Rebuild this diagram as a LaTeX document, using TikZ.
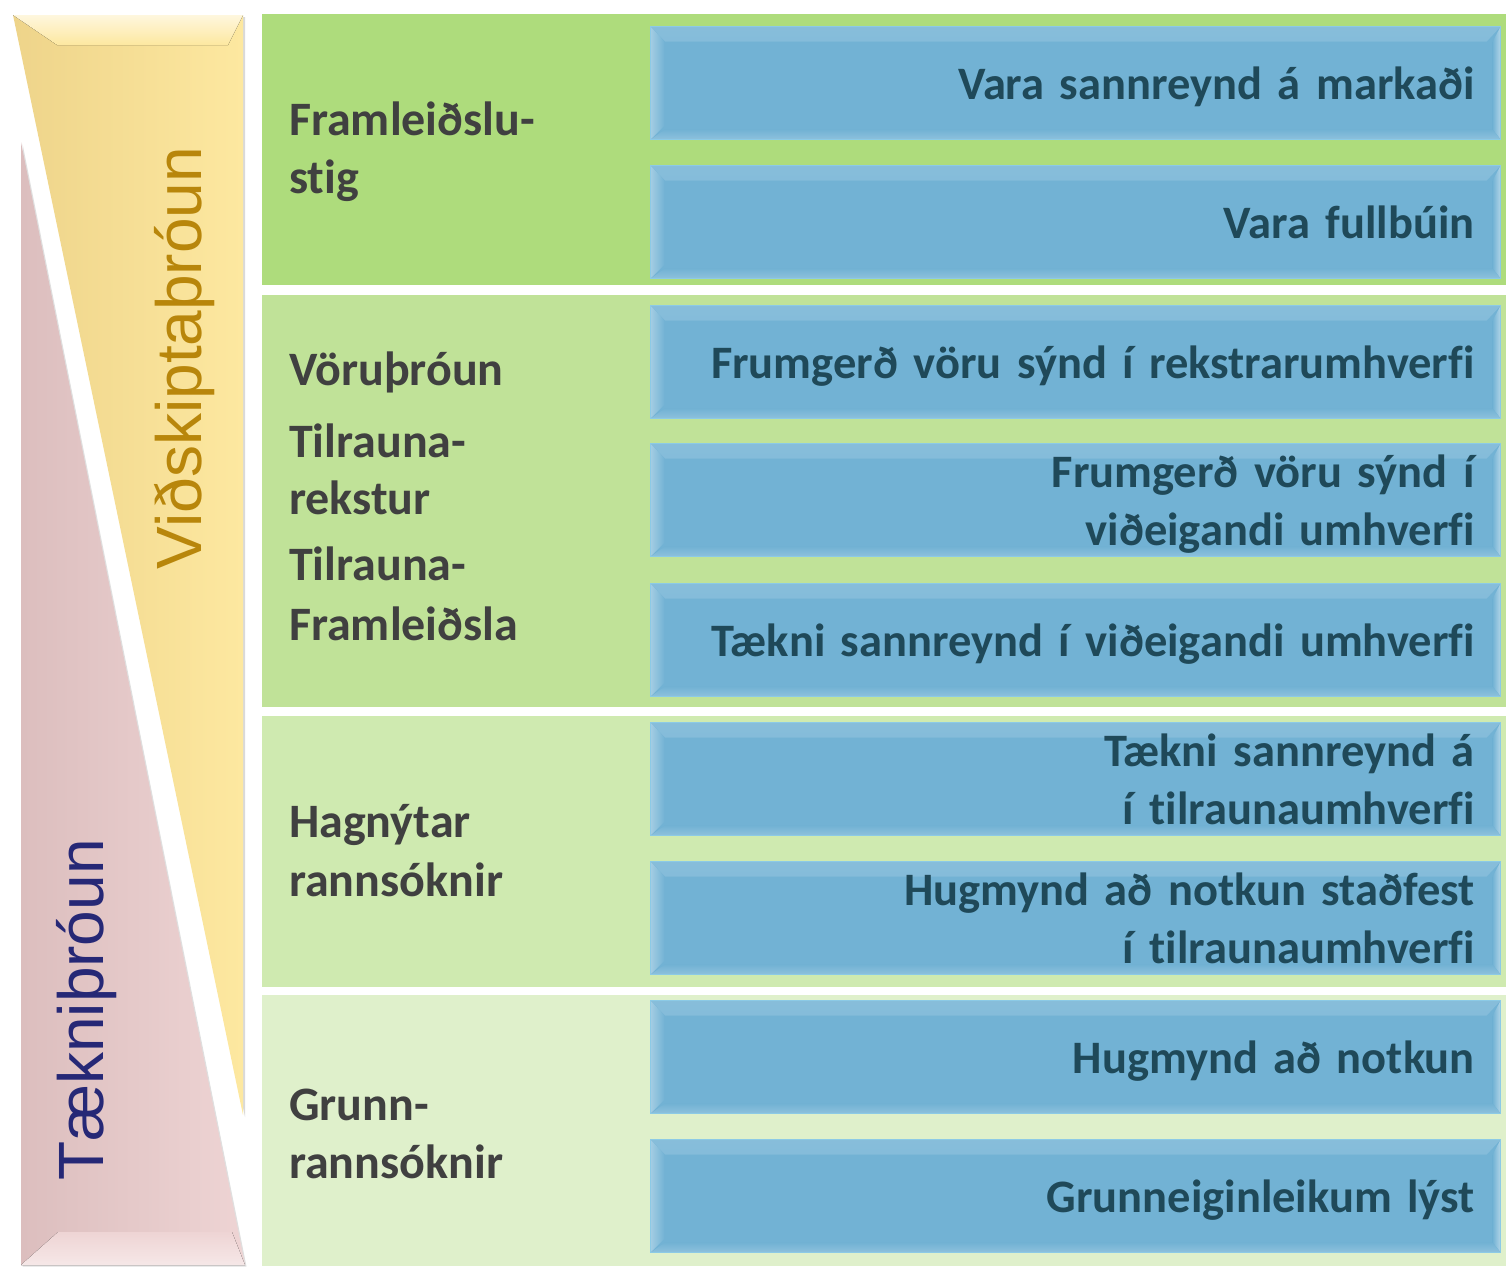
\documentclass[tikz,border=0pt]{standalone}
\usepackage{fontspec}
\setmainfont{Carlito}[Ligatures=NoCommon]
\newfontfamily\sidefont{Liberation Sans}
\usetikzlibrary{shadows}

\definecolor{bandA}{RGB}{174,220,124}
\definecolor{bandB}{RGB}{192,226,152}
\definecolor{bandC}{RGB}{207,234,176}
\definecolor{bandD}{RGB}{223,240,203}
\definecolor{stagefill}{RGB}{114,178,212}
\definecolor{stageedge}{RGB}{140,202,230}
\definecolor{stagetext}{RGB}{31,73,89}
\definecolor{bevhi}{RGB}{196,248,255}
\definecolor{phasetext}{RGB}{64,64,64}
\definecolor{bizgold}{RGB}{184,134,11}
\definecolor{technavy}{RGB}{38,40,118}
\definecolor{yellowL}{RGB}{238,212,138}
\definecolor{yellowR}{RGB}{253,232,160}
\definecolor{pinkL}{RGB}{220,190,190}
\definecolor{pinkR}{RGB}{238,212,212}

% bevelled edges of the blue boxes
\newcommand{\stagebevel}{%
  \fill[top color=stagefill!85!white, middle color=bevhi, bottom color=stagefill]
    (path picture bounding box.north west) -- (path picture bounding box.north east)
    -- ([shift={(-14pt,-15pt)}]path picture bounding box.north east)
    -- ([shift={(14pt,-15pt)}]path picture bounding box.north west) -- cycle;
  \fill[left color=stagefill!65!white, right color=stagefill]
    (path picture bounding box.north west) -- ([shift={(14pt,-15pt)}]path picture bounding box.north west)
    -- ([shift={(14pt,14pt)}]path picture bounding box.south west)
    -- (path picture bounding box.south west) -- cycle;
  \fill[left color=stagefill, right color=stagefill!55!white]
    (path picture bounding box.north east) -- ([shift={(-8pt,-15pt)}]path picture bounding box.north east)
    -- ([shift={(-8pt,10pt)}]path picture bounding box.south east)
    -- (path picture bounding box.south east) -- cycle;
  \fill[top color=stagefill, bottom color=stagefill!80!white]
    (path picture bounding box.south west) -- ([shift={(14pt,10pt)}]path picture bounding box.south west)
    -- ([shift={(-8pt,10pt)}]path picture bounding box.south east)
    -- (path picture bounding box.south east) -- cycle;
}

\begin{document}
\begin{tikzpicture}[x=1pt, y=-1pt,
    stage/.style = {
      draw = stageedge,
      fill = stagefill,
      line width = 1.2pt,
      anchor = north west,
      minimum height = 113pt,
      text width = 798pt,
      inner xsep = 26pt,
      inner ysep = 0pt,
      align = right,
      text height = 36pt,
      text depth = 3pt,
      text = stagetext,
      font = \bfseries\fontsize{46.5}{57.5}\selectfont,
      path picture = {\stagebevel}
    },
    twoline/.style = {text depth = 60.5pt},
    phase/.style = {
      anchor = base west,
      inner sep = 0pt,
      text = phasetext,
      font = \bfseries\fontsize{48}{57.5}\selectfont
    },
    side/.style = {
      rotate = 90,
      anchor = base,
      inner sep = 0pt,
      font = \sidefont\fontsize{64}{70}\selectfont
    }
  ]
  \useasboundingbox (0,0) rectangle (1506,1266);

  % the two wedges
  \path[left color=pinkL, right color=pinkR, drop shadow={opacity=0.25, shadow xshift=1.5pt, shadow yshift=-1.5pt}]
    (21,142) -- (245,1265) -- (21,1265) -- cycle;
  \fill[top color=pinkR, bottom color=pinkR!55!white] (58,1232) -- (232,1232) -- (245,1265) -- (21,1265) -- cycle;
  \path[left color=yellowL, right color=yellowR, drop shadow={opacity=0.3, shadow xshift=2pt, shadow yshift=-2pt}]
    (13,15) -- (243,15) -- (243,1115) -- cycle;
  \fill[top color=yellowR!35!white, bottom color=yellowR] (13,15) -- (243,15) -- (228,45) -- (57,45) -- cycle;

  \draw (201,358)  node[side, text=bizgold] (biz) {Viðskiptaþróun};
  \draw (103,1010) node[side, text=technavy] (tech) {Tækniþróun};

  % stage bands
  \fill[bandA] (262,14)  rectangle (1506,285);
  \fill[bandB] (262,295) rectangle (1506,707);
  \fill[bandC] (262,716) rectangle (1506,987);
  \fill[bandD] (262,995) rectangle (1506,1266);

  \draw (289,135)  node[phase] (prodA)  {Framleiðslu-};
  \draw (289,193)  node[phase] (prodB)  {stig};
  \draw (289,385)  node[phase] (devA)   {Vöruþróun};
  \draw (289,457)  node[phase] (runA)   {Tilrauna-};
  \draw (289,514)  node[phase] (runB)   {rekstur};
  \draw (289,580)  node[phase] (pilotA) {Tilrauna-};
  \draw (289,640)  node[phase] (pilotB) {Framleiðsla};
  \draw (289,837)  node[phase] (applA)  {Hagnýtar};
  \draw (289,896)  node[phase] (applB)  {rannsóknir};
  \draw (289,1120) node[phase] (basicA) {Grunn-};
  \draw (289,1178) node[phase] (basicB) {rannsóknir};

  % readiness levels, top to bottom
  \draw (650,26)   node[stage] (s9) {Vara sannreynd á markaði};
  \draw (650,165)  node[stage] (s8) {Vara fullbúin};
  \draw (650,305)  node[stage] (s7) {Frumgerð vöru sýnd í rekstrarumhverfi};
  \draw (650,443)  node[stage, twoline] (s6) {Frumgerð vöru sýnd í\\viðeigandi umhverfi};
  \draw (650,583)  node[stage] (s5) {Tækni sannreynd í viðeigandi umhverfi};
  \draw (650,722)  node[stage, twoline] (s4) {Tækni sannreynd á\\í tilraunaumhverfi};
  \draw (650,861)  node[stage, twoline] (s3) {Hugmynd að notkun staðfest\\í tilraunaumhverfi};
  \draw (650,1000) node[stage] (s2) {Hugmynd að notkun};
  \draw (650,1139) node[stage] (s1) {Grunneiginleikum lýst};
\end{tikzpicture}
\end{document}
